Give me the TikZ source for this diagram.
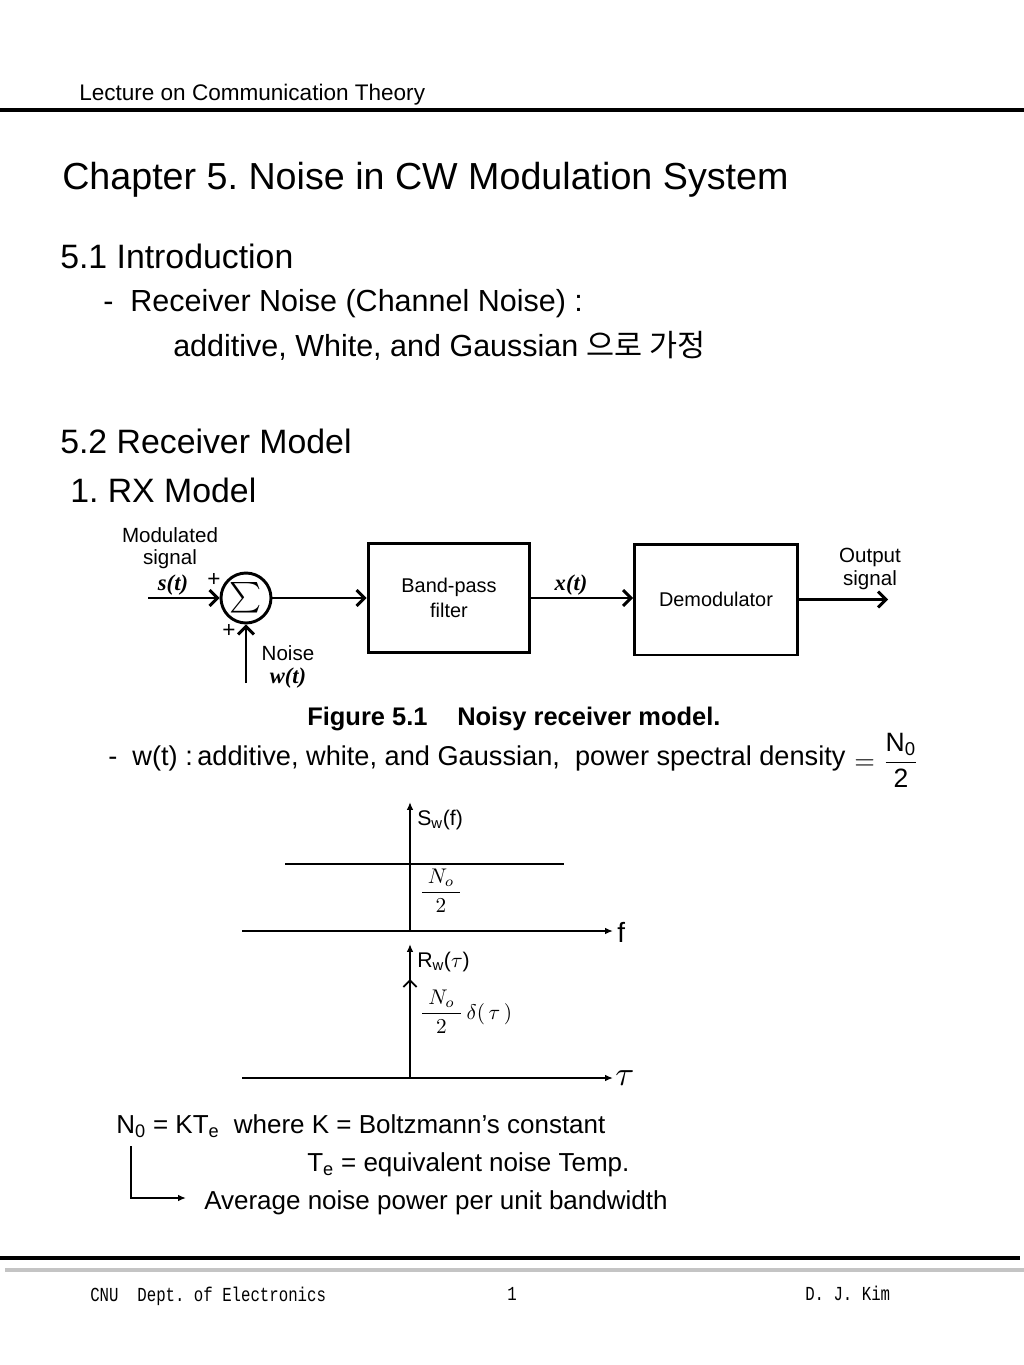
\documentclass[tikz,border=0pt]{standalone}
\usepackage{fontspec}
\setmainfont{Liberation Sans}
\newfontfamily\hangul{Noto Sans CJK KR}
\newfontfamily\bookserif{Liberation Serif}
\newfontfamily\typewr{Liberation Mono}
\usepackage{graphicx}
\usepackage{tikz}
\usetikzlibrary{arrows.meta}
\definecolor{rulegray}{HTML}{C4C4C4}
\newcommand{\fsz}[1]{\fontsize{#1}{#1}\selectfont}
\newcommand{\bigmath}[2]{\scalebox{#1}{\fsz{10}$\displaystyle #2$}}
\frenchspacing

\begin{document}
\begin{tikzpicture}[x=0.0265cm,y=-0.0265cm,
    txt/.style={anchor=base west,inner sep=0pt},
    blockbox/.style={draw,line width=2.2pt,inner sep=0pt,align=center,
      font=\fontsize{15}{19}\selectfont},
    sig/.style={-{Straight Barb[length=6pt,width=12pt]},line width=2.2pt},
    axis/.style={-{Latex[length=6pt,width=5pt]},line width=1.4pt}]
  \fill[white] (0,0) rectangle (1024,1365);
  \useasboundingbox (0,0) rectangle (1024,1365);

  % header and headings
  \node[txt,font=\fsz{17}] (hdr) at (79,100) {Lecture on Communication Theory};
  \draw[line width=2.4pt] (0,110) -- (1024,110);
  \node[txt,font=\fsz{28.4}] (title) at (62,189) {Chapter 5. Noise in CW Modulation System};
  \begin{scope}[font=\fsz{25.5}]
    \node[txt] (sec1) at (60,268) {5.1 Introduction};
    \node[txt] (sec2) at (60,453) {5.2 Receiver Model};
    \node[txt] (rxmod) at (70,502) {1. RX Model};
  \end{scope}
  \begin{scope}[font=\fsz{23}]
    \node[txt] (rxnoise) at (103,311) {-\ \ Receiver Noise (Channel Noise) :};
    \node[txt] (awgn) at (173,356) {additive, White, and Gaussian {\hangul 으로 가정}};
  \end{scope}

  % block diagram
  \node[circle,draw,line width=2.2pt,minimum size=1.325cm,inner sep=0pt] (sum) at (246,598) {\bigmath{2.3}{\textstyle\sum}};
  \node[blockbox,minimum width=4.29cm,minimum height=2.89cm] (bpf) at (449,598) {Band-pass\\filter};
  \node[blockbox,minimum width=4.32cm,minimum height=2.94cm] (demod) at (716,599.5) {Demodulator};
  \coordinate (sin) at (148,598);
  \coordinate (nin) at (246,683);
  \coordinate (sout) at (888,599.5);
  \draw[sig] (sin) -- (sum.west);
  \draw[sig] (nin) -- (sum.south);
  \draw[sig] (sum.east) -- (bpf.west);
  \draw[sig] (bpf.east) -- (bpf.east -| demod.west);
  \draw[sig] (demod.east) -- (sout);
  \begin{scope}[font=\fontsize{15.5}{17}\selectfont,align=center]
    \node (modlbl) at (170,548) {Modulated\\signal};
    \node[font=\fsz{17}] (plusa) at (214,580) {+};
    \node[font=\fsz{17}] (plusb) at (229,631) {+};
    \node (noiselbl) at (288,667) {Noise\\[1pt]{\bookserif\bfseries\itshape\fsz{17}w(t)}};
    \node (outlbl) at (870,569) {Output\\signal};
    \node[font=\bookserif\bfseries\itshape\fsz{17}] (slbl) at (173,585) {s(t)};
    \node[font=\bookserif\bfseries\itshape\fsz{17}] (xlbl) at (571,585) {x(t)};
  \end{scope}
  \node[txt,font=\bfseries\fsz{19.2}] (figno) at (307,725) {Figure 5.1};
  \node[txt,font=\bfseries\fsz{19.2}] (figcap) at (457,725) {Noisy receiver model.};

  % noise spectrum
  \node[txt,font=\fsz{20.5}] (psd) at (108,765) {-\ \ w(t) :\,additive, white, and Gaussian,\ \ power spectral density};
  \node (psdfrac) at (887,760) {\bigmath{2}{=\frac{\mbox{N\textsubscript{0}}}{\mbox{2}}}};

  \coordinate (oa) at (410,931);  \coordinate (ytopa) at (410,802);
  \coordinate (xla) at (242,931); \coordinate (xra) at (613,931);
  \coordinate (lvll) at (285,864); \coordinate (lvlr) at (564,864);
  \draw[axis] (oa) -- (ytopa);
  \draw[axis] (xla) -- (xra);
  \draw[line width=1.4pt] (lvll) -- (lvlr);
  \node[anchor=west,inner sep=0pt,font=\fsz{16}] (swlbl) at (417,820) {S\textsubscript{w}(f)};
  \node (psdval) at (441,891) {\bigmath{1.6}{\frac{\;N_o\;}{2}}};
  \node[anchor=west,inner sep=0pt,font=\fsz{21}] (flbl) at (617,932) {f};

  \coordinate (ob) at (410,1078); \coordinate (ytopb) at (410,944);
  \coordinate (xlb) at (242,1078); \coordinate (xrb) at (613,1078);
  \coordinate (imp) at (410,979);
  \draw[axis] (ob) -- (ytopb);
  \draw[-{Straight Barb[length=5pt,width=10pt]},line width=1.4pt] (ob) -- (imp);
  \draw[axis] (xlb) -- (xrb);
  \node[anchor=west,inner sep=0pt,font=\fsz{16}] (rwlbl) at (417,962) {R\textsubscript{w}(\bigmath{1.6}{\tau})};
  \node (acfval) at (466,1012) {\bigmath{1.6}{\frac{\;N_o\;}{2}\,\delta(\,\tau\,)}};
  \node[anchor=west,inner sep=0pt] (taulbl) at (615,1078) {\bigmath{2.6}{\tau}};

  % N0 definition
  \begin{scope}[font=\fsz{19.6}]
    \node[txt] (kte) at (116,1133) {N\textsubscript{0} = KT\textsubscript{e}\ \ where K = Boltzmann’s constant};
    \node[txt] (tedef) at (307,1171) {T\textsubscript{e} = equivalent noise Temp.};
    \node[txt] (avg) at (204,1209) {Average noise power per unit bandwidth};
  \end{scope}
  \coordinate (brk) at (131,1146);
  \coordinate (brkend) at (186,1198);
  \draw[-{Latex[length=6pt,width=5pt]},line width=1.2pt] (brk) |- (brkend);

  % footer
  \draw[line width=3.4pt] (0,1258) -- (1020,1258);
  \draw[rulegray,line width=2.6pt] (5,1270) -- (1024,1270);
  \begin{scope}[font=\typewr\fsz{15}]
    \node[txt] (ftleft) at (90,1301) {\scalebox{0.79}[1]{CNU\ \ Dept. of Electronics}};
    \node[txt] (ftmid) at (507,1300) {\scalebox{0.79}[1]{1}};
    \node[txt] (ftright) at (805,1300) {\scalebox{0.79}[1]{D. J. Kim}};
  \end{scope}
\end{tikzpicture}
\end{document}
